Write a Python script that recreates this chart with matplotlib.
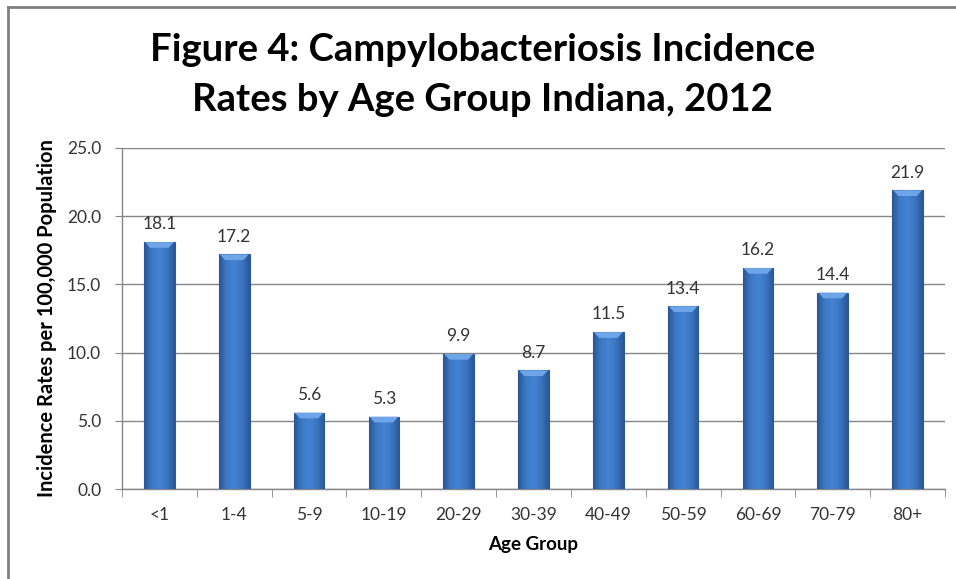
import matplotlib
matplotlib.use("Agg")
import matplotlib.pyplot as plt
import numpy as np
from matplotlib.colors import LinearSegmentedColormap
from matplotlib.patches import Polygon

categories = ["<1", "1-4", "5-9", "10-19", "20-29", "30-39", "40-49", "50-59", "60-69", "70-79", "80+"]
values = [18.1, 17.2, 5.6, 5.3, 9.9, 8.7, 11.5, 13.4, 16.2, 14.4, 21.9]
yticks = [0, 5, 10, 15, 20, 25]

title = "Figure 4: Campylobacteriosis Incidence\nRates by Age Group Indiana, 2012"
xlabel = "Age Group"
ylabel = "Incidence Rates per 100,000 Population"

FONT = ["Lato", "DejaVu Sans"]
plt.rcParams['font.family'] = FONT

fig = plt.figure(figsize=(9.56, 5.79), dpi=100)
fig.patch.set_facecolor("white")
ax = fig.add_axes([122/956, 90/579, 823/956, 341/579])

# frame lines (left and top) of the figure
fig.add_artist(plt.Line2D([8/956, 8/956], [0, 1 - 7/579], transform=fig.transFigure, color="#808080", lw=2))
fig.add_artist(plt.Line2D([8/956, 1], [1 - 7/579, 1 - 7/579], transform=fig.transFigure, color="#808080", lw=2))

x = np.arange(len(categories))
width = 0.41
bars = ax.bar(x, values, width=width, color="#3b73bd", edgecolor="#2c5a98", linewidth=0.8, zorder=3)

cmap = LinearSegmentedColormap.from_list("bev", ["#2a5592", "#3b78c6", "#4483d2", "#3a74c0", "#2b5795"])
grad = np.linspace(0, 1, 256).reshape(1, -1)
for b in bars:
    bx, by = b.get_x(), b.get_y()
    bw, bh = b.get_width(), b.get_height()
    im = ax.imshow(grad, extent=[bx, bx + bw, by, by + bh], aspect="auto", cmap=cmap, zorder=3.5)
    im.set_clip_path(b)
    # top bevel highlight (trapezoid)
    top = by + bh
    bev = 0.42
    ax.add_patch(Polygon([(bx + bw * 0.03, top), (bx + bw * 0.97, top),
                          (bx + bw * 0.8, top - bev), (bx + bw * 0.2, top - bev)],
                         closed=True, color="#6ea4e8", lw=0, zorder=3.6))
    ax.annotate(f"{b.get_height():.1f}", (bx + bw / 2, top), xytext=(0, 7), textcoords="offset points",
                ha="center", va="bottom", fontsize=12.5, color="#333333", zorder=5)

ax.set_xlim(-0.5, len(categories) - 0.5)
ax.set_ylim(0, 25)
ax.set_yticks(yticks)
ax.set_yticklabels([f"{v:.1f}" for v in yticks], fontsize=12.5, color="#333333")
ax.set_xticks(x)
ax.set_xticklabels(categories, fontsize=12.5, color="#333333")
ax.set_xticks(np.arange(len(categories) + 1) - 0.5, minor=True)
ax.tick_params(axis="x", which="major", length=0, pad=13)
ax.tick_params(axis="x", which="minor", length=6, color="#868686", direction="out")
ax.tick_params(axis="y", length=5, color="#868686", direction="out", pad=10)

ax.grid(axis="y", color="#868686", linewidth=1, zorder=0)
ax.set_axisbelow(True)
for s in ["top", "right"]:
    ax.spines[s].set_visible(False)
for s in ["left", "bottom"]:
    ax.spines[s].set_color("#868686")
    ax.spines[s].set_linewidth(1)

ax.set_xlabel(xlabel, fontsize=13.5, fontweight="bold", labelpad=9)
ax.set_ylabel(ylabel, fontsize=14.5, fontweight="bold", labelpad=7)

fig.text(0.505, 1 - 75/579, title, ha="center", va="center", fontsize=27.5, fontweight="bold",
         linespacing=1.55, color="#000000")

fig.savefig("out.png", dpi=100, facecolor="white")
